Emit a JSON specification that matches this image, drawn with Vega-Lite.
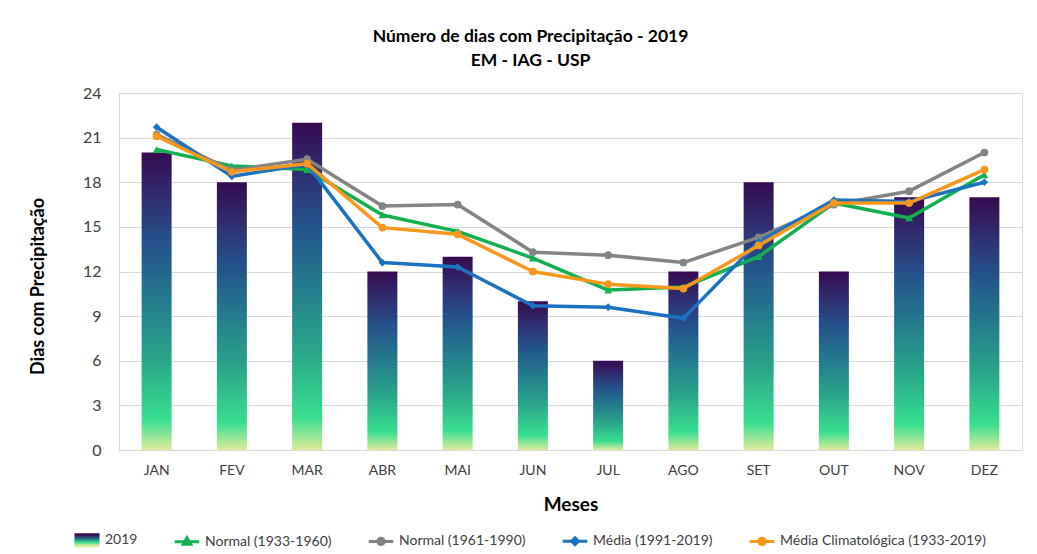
{
  "$schema": "https://vega.github.io/schema/vega-lite/v6.json",
  "width": 903,
  "height": 357,
  "autosize": {"type": "none"},
  "padding": {"left": 119, "top": 93, "right": 15, "bottom": 104},
  "background": "white",
  "config": {
    "font": "Lato",
    "view": {"stroke": "#d9d9d9", "strokeWidth": 1}
  },
  "title": {
    "text": ["Número de dias com Precipitação - 2019", "EM - IAG - USP"],
    "font": "Lato",
    "fontSize": 17.5,
    "fontWeight": "bold",
    "color": "#000000",
    "lineHeight": 24,
    "anchor": "middle",
    "frame": "group",
    "dx": -40,
    "offset": 16
  },
  "datasets": {
    "bars": [
      {"mes": "JAN", "dias": 20},
      {"mes": "FEV", "dias": 18},
      {"mes": "MAR", "dias": 22},
      {"mes": "ABR", "dias": 12},
      {"mes": "MAI", "dias": 13},
      {"mes": "JUN", "dias": 10},
      {"mes": "JUL", "dias": 6},
      {"mes": "AGO", "dias": 12},
      {"mes": "SET", "dias": 18},
      {"mes": "OUT", "dias": 12},
      {"mes": "NOV", "dias": 17},
      {"mes": "DEZ", "dias": 17}
    ],
    "lines": [
      {"serie": "Normal (1933-1960)", "mes": "JAN", "dias": 20.2},
      {"serie": "Normal (1933-1960)", "mes": "FEV", "dias": 19.1},
      {"serie": "Normal (1933-1960)", "mes": "MAR", "dias": 18.85},
      {"serie": "Normal (1933-1960)", "mes": "ABR", "dias": 15.8},
      {"serie": "Normal (1933-1960)", "mes": "MAI", "dias": 14.7},
      {"serie": "Normal (1933-1960)", "mes": "JUN", "dias": 12.9},
      {"serie": "Normal (1933-1960)", "mes": "JUL", "dias": 10.75},
      {"serie": "Normal (1933-1960)", "mes": "AGO", "dias": 10.95},
      {"serie": "Normal (1933-1960)", "mes": "SET", "dias": 13.0},
      {"serie": "Normal (1933-1960)", "mes": "OUT", "dias": 16.6},
      {"serie": "Normal (1933-1960)", "mes": "NOV", "dias": 15.6},
      {"serie": "Normal (1933-1960)", "mes": "DEZ", "dias": 18.5},
      {"serie": "Normal (1961-1990)", "mes": "JAN", "dias": 21.2},
      {"serie": "Normal (1961-1990)", "mes": "FEV", "dias": 18.8},
      {"serie": "Normal (1961-1990)", "mes": "MAR", "dias": 19.55},
      {"serie": "Normal (1961-1990)", "mes": "ABR", "dias": 16.4},
      {"serie": "Normal (1961-1990)", "mes": "MAI", "dias": 16.5},
      {"serie": "Normal (1961-1990)", "mes": "JUN", "dias": 13.3},
      {"serie": "Normal (1961-1990)", "mes": "JUL", "dias": 13.1},
      {"serie": "Normal (1961-1990)", "mes": "AGO", "dias": 12.6},
      {"serie": "Normal (1961-1990)", "mes": "SET", "dias": 14.3},
      {"serie": "Normal (1961-1990)", "mes": "OUT", "dias": 16.5},
      {"serie": "Normal (1961-1990)", "mes": "NOV", "dias": 17.4},
      {"serie": "Normal (1961-1990)", "mes": "DEZ", "dias": 20.0},
      {"serie": "Média (1991-2019)", "mes": "JAN", "dias": 21.7},
      {"serie": "Média (1991-2019)", "mes": "FEV", "dias": 18.4},
      {"serie": "Média (1991-2019)", "mes": "MAR", "dias": 19.2},
      {"serie": "Média (1991-2019)", "mes": "ABR", "dias": 12.6},
      {"serie": "Média (1991-2019)", "mes": "MAI", "dias": 12.3},
      {"serie": "Média (1991-2019)", "mes": "JUN", "dias": 9.7},
      {"serie": "Média (1991-2019)", "mes": "JUL", "dias": 9.6},
      {"serie": "Média (1991-2019)", "mes": "AGO", "dias": 8.85},
      {"serie": "Média (1991-2019)", "mes": "SET", "dias": 14.0},
      {"serie": "Média (1991-2019)", "mes": "OUT", "dias": 16.8},
      {"serie": "Média (1991-2019)", "mes": "NOV", "dias": 16.7},
      {"serie": "Média (1991-2019)", "mes": "DEZ", "dias": 18.0},
      {"serie": "Média Climatológica (1933-2019)", "mes": "JAN", "dias": 21.1},
      {"serie": "Média Climatológica (1933-2019)", "mes": "FEV", "dias": 18.7},
      {"serie": "Média Climatológica (1933-2019)", "mes": "MAR", "dias": 19.25},
      {"serie": "Média Climatológica (1933-2019)", "mes": "ABR", "dias": 14.95},
      {"serie": "Média Climatológica (1933-2019)", "mes": "MAI", "dias": 14.5},
      {"serie": "Média Climatológica (1933-2019)", "mes": "JUN", "dias": 12.0},
      {"serie": "Média Climatológica (1933-2019)", "mes": "JUL", "dias": 11.15},
      {"serie": "Média Climatológica (1933-2019)", "mes": "AGO", "dias": 10.85},
      {"serie": "Média Climatológica (1933-2019)", "mes": "SET", "dias": 13.75},
      {"serie": "Média Climatológica (1933-2019)", "mes": "OUT", "dias": 16.6},
      {"serie": "Média Climatológica (1933-2019)", "mes": "NOV", "dias": 16.6},
      {"serie": "Média Climatológica (1933-2019)", "mes": "DEZ", "dias": 18.85}
    ]
  },
  "encoding": {
    "x": {
      "field": "mes",
      "type": "ordinal",
      "sort": ["JAN", "FEV", "MAR", "ABR", "MAI", "JUN", "JUL", "AGO", "SET", "OUT", "NOV", "DEZ"],
      "scale": {"paddingInner": 0, "paddingOuter": 0},
      "axis": {
        "title": "Meses",
        "titleFont": "Lato",
        "titleFontSize": 19,
        "titleFontWeight": "bold",
        "titleColor": "#000000",
        "titlePadding": 18,
        "labelFont": "Lato",
        "labelFontSize": 14,
        "labelColor": "#404040",
        "labelAngle": 0,
        "labelPadding": 13,
        "ticks": false,
        "domain": true,
        "domainColor": "#d9d9d9",
        "grid": false
      }
    },
    "y": {
      "field": "dias",
      "type": "quantitative",
      "scale": {"domain": [0, 24], "nice": false, "zero": true},
      "axis": {
        "values": [0, 3, 6, 9, 12, 15, 18, 21, 24],
        "title": "Dias com Precipitação",
        "titleFont": "Lato",
        "titleFontSize": 18,
        "titleFontWeight": "bold",
        "titleColor": "#000000",
        "titlePadding": 35,
        "titleY": 193,
        "titleAlign": "center",
        "labelFont": "Lato",
        "labelFontSize": 16,
        "labelColor": "#404040",
        "labelPadding": 18,
        "ticks": false,
        "domain": false,
        "grid": true,
        "gridColor": "#d9d9d9",
        "gridWidth": 1
      }
    }
  },
  "layer": [
    {
      "data": {"name": "bars"},
      "mark": {
        "type": "bar",
        "size": 30,
        "color": {
          "gradient": "linear",
          "x1": 0, "y1": 1, "x2": 0, "y2": 0,
          "stops": [
            {"offset": 0, "color": "#dfeb9c"},
            {"offset": 0.1, "color": "#38df8f"},
            {"offset": 0.31, "color": "#29a48a"},
            {"offset": 0.51, "color": "#24798e"},
            {"offset": 0.7, "color": "#245089"},
            {"offset": 0.83, "color": "#2e3273"},
            {"offset": 1, "color": "#370a4f"}
          ]
        }
      }
    },
    {
      "data": {"name": "lines"},
      "mark": {"type": "line", "strokeWidth": 3.5, "strokeJoin": "round"},
      "encoding": {
        "color": {
          "field": "serie",
          "type": "nominal",
          "scale": {
            "domain": ["2019", "Normal (1933-1960)", "Normal (1961-1990)", "Média (1991-2019)", "Média Climatológica (1933-2019)"],
            "range": [
              {"expr": "{gradient: 'linear', x1: 0, y1: 1, x2: 0, y2: 0, stops: [{offset: 0, color: '#dfeb9c'}, {offset: 0.3, color: '#38df8f'}, {offset: 0.6, color: '#24798e'}, {offset: 1, color: '#370a4f'}]}"},
              "#12b04f", "#848484", "#1a72c0", "#f7971c"
            ]
          },
          "legend": {
            "orient": "none",
            "legendX": -46,
            "legendY": 433,
            "direction": "horizontal",
            "title": null,
            "labelFont": "Lato",
            "labelFontSize": 14,
            "labelColor": "#404040",
            "labelLimit": 400,
            "columnPadding": 30,
            "symbolSize": 600,
            "symbolStrokeWidth": 3,
            "labelOffset": 4,
            "encode": {
              "symbols": {
                "update": {
                  "shape": [
                    {"test": "datum.value === '2019'", "value": "M-0.9,-0.45H0.9V0.45H-0.9Z"},
                    {"test": "datum.value === 'Normal (1933-1960)'", "value": "M-1,0H1M0,-0.32L0.3,0.2L-0.3,0.2Z"},
                    {"test": "datum.value === 'Média (1991-2019)'", "value": "M-1,0H1M0,-0.28L0.28,0L0,0.28L-0.28,0Z"},
                    {"value": "M-1,0H1M-0.26,0A0.26,0.26 0 1,0 0.26,0A0.26,0.26 0 1,0 -0.26,0Z"}
                  ],
                  "fill": {"scale": "color", "field": "value"},
                  "stroke": [
                    {"test": "datum.value === '2019'", "value": "transparent"},
                    {"scale": "color", "field": "value"}
                  ],
                  "opacity": {"value": 1}
                }
              }
            }
          }
        }
      }
    },
    {
      "data": {"name": "lines"},
      "mark": {"type": "point", "filled": true, "size": 60, "opacity": 1},
      "encoding": {
        "color": {"field": "serie", "type": "nominal", "legend": null},
        "shape": {
          "field": "serie",
          "type": "nominal",
          "scale": {
            "domain": ["Normal (1933-1960)", "Normal (1961-1990)", "Média (1991-2019)", "Média Climatológica (1933-2019)"],
            "range": ["triangle-up", "circle", "diamond", "circle"]
          },
          "legend": null
        }
      }
    }
  ]
}
